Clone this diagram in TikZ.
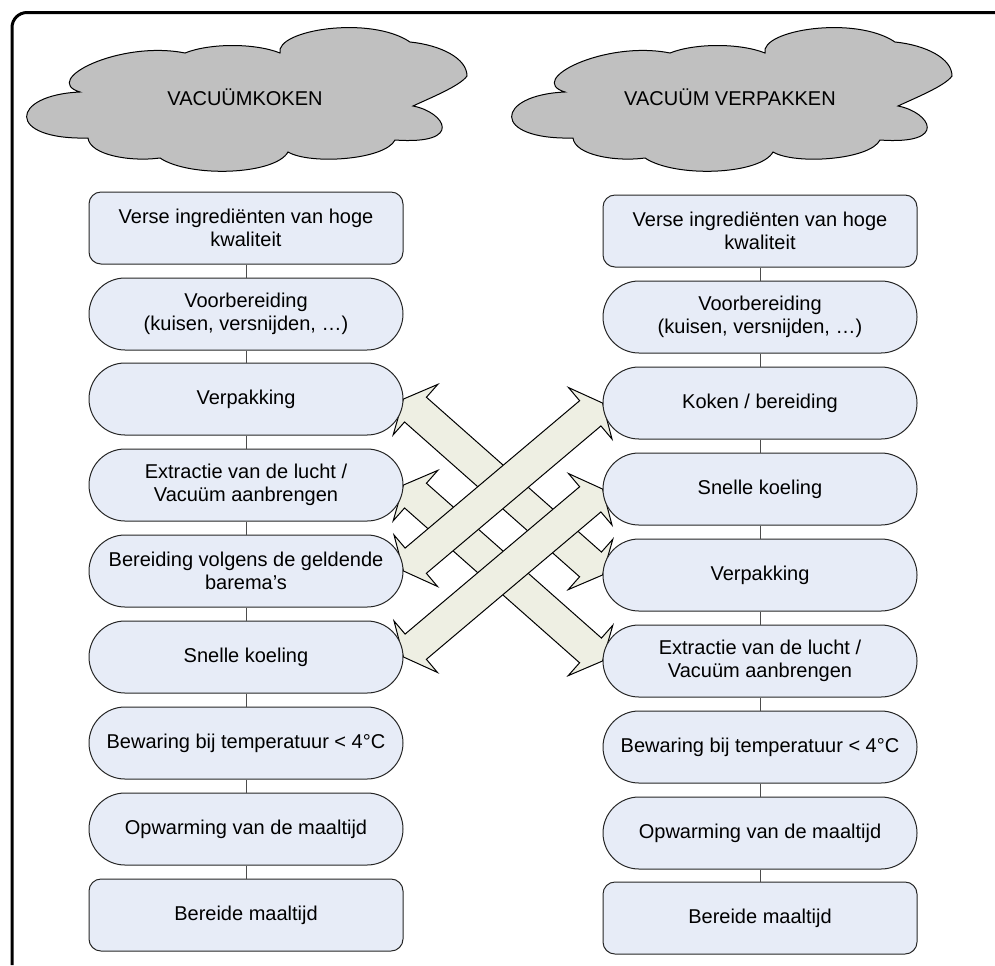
\documentclass[tikz,border=0pt]{standalone}
\usepackage{fontspec}
\setmainfont{Liberation Sans}
\usetikzlibrary{calc}
\definecolor{boxblue}{RGB}{231,236,247}
\definecolor{arrowfill}{RGB}{238,239,227}
\definecolor{cloudgray}{RGB}{192,192,192}
\pgfdeclarelayer{back}
\pgfsetlayers{back,main}

% double block arrow, tip to tip
\newcommand\dualarrow[2]{%
  \coordinate (ha) at ($(#1)!8pt!(#2)$);
  \coordinate (hb) at ($(#2)!8pt!(#1)$);
  \draw[blockarrow] (#1) -- ($(ha)!16.85pt!90:(#2)$) -- ($(ha)!8.25pt!90:(#2)$)
    -- ($(hb)!8.25pt!-90:(#1)$) -- ($(hb)!16.85pt!-90:(#1)$) -- (#2)
    -- ($(hb)!16.85pt!90:(#1)$) -- ($(hb)!8.25pt!90:(#1)$)
    -- ($(ha)!8.25pt!-90:(#2)$) -- ($(ha)!16.85pt!-90:(#2)$) -- cycle;}

% outline of the cloud
\newcommand\cloudoutline{(80,92) .. controls (40,80) and (120,40) .. (185,53)
  .. controls (210,43) and (255,43) .. (280,53)
  .. controls (275,30) and (370,15) .. (410,42)
  .. controls (440,45) and (467,58) .. (467,76)
  .. controls (460,86) and (430,98) .. (413,106)
  .. controls (445,112) and (465,145) .. (395,140)
  .. controls (385,160) and (310,165) .. (288,152)
  .. controls (275,175) and (190,178) .. (160,158)
  .. controls (130,162) and (90,155) .. (88,138)
  .. controls (5,140) and (10,95) .. (80,92) -- cycle}

\begin{document}
\begin{tikzpicture}[x=0.5pt,y=-0.5pt,
  every node/.style={font=\fontsize{10}{11.5}\selectfont},
  stepbox/.style={draw=black!85, fill=boxblue, line width=0.5pt, minimum width=157pt, minimum height=36pt, align=center, inner sep=2pt},
  roundstep/.style={stepbox, rounded corners=18pt},
  endstep/.style={stepbox, rounded corners=6pt},
  link/.style={draw=black!70, line width=0.5pt},
  blockarrow/.style={draw=black, fill=arrowfill, line width=0.5pt},
  cloudstyle/.style={draw=black, fill=cloudgray, line width=0.5pt}]
\useasboundingbox (0,0) rectangle (995,965);
% frame, only its top and left sides fall inside the picture
\draw[line width=1.5pt, rounded corners=7.5pt] (995,12.5) -- (12,12.5) -- (12,965);

% clouds
\draw[cloudstyle] \cloudoutline;
\draw[cloudstyle, shift={(485,0)}] \cloudoutline;
\node (kcloud) at (245,97) {VACUÜMKOKEN};
\node (vcloud) at (730,97) {VACUÜM VERPAKKEN};

% vacuumkoken
\node[endstep] (k1) at (246,228) {Verse ingrediënten van hoge\\kwaliteit};
\node[roundstep] (k2) at (246,314) {Voorbereiding\\(kuisen, versnijden, …)};
\node[roundstep] (k3) at (246,399) {Verpakking};
\node[roundstep] (k4) at (246,485) {Extractie van de lucht /\\Vacuüm aanbrengen};
\node[roundstep] (k5) at (246,571) {Bereiding volgens de geldende\\barema’s};
\node[roundstep] (k6) at (246,657) {Snelle koeling};
\node[roundstep] (k7) at (246,743) {Bewaring bij temperatuur < 4°C};
\node[roundstep] (k8) at (246,829) {Opwarming van de maaltijd};
\node[endstep] (k9) at (246,915) {Bereide maaltijd};

% vacuum verpakken
\node[endstep] (v1) at (760,231) {Verse ingrediënten van hoge\\kwaliteit};
\node[roundstep] (v2) at (760,317) {Voorbereiding\\(kuisen, versnijden, …)};
\node[roundstep] (v3) at (760,403) {Koken / bereiding};
\node[roundstep] (v4) at (760,489) {Snelle koeling};
\node[roundstep] (v5) at (760,575) {Verpakking};
\node[roundstep] (v6) at (760,661) {Extractie van de lucht /\\Vacuüm aanbrengen};
\node[roundstep] (v7) at (760,747) {Bewaring bij temperatuur < 4°C};
\node[roundstep] (v8) at (760,833) {Opwarming van de maaltijd};
\node[endstep] (v9) at (760,918) {Bereide maaltijd};

\path (k1) edge[link] (k2);
\path (k2) edge[link] (k3);
\path (k3) edge[link] (k4);
\path (k4) edge[link] (k5);
\path (k5) edge[link] (k6);
\path (k6) edge[link] (k7);
\path (k7) edge[link] (k8);
\path (k8) edge[link] (k9);
\path (v1) edge[link] (v2);
\path (v2) edge[link] (v3);
\path (v3) edge[link] (v4);
\path (v4) edge[link] (v5);
\path (v5) edge[link] (v6);
\path (v6) edge[link] (v7);
\path (v7) edge[link] (v8);
\path (v8) edge[link] (v9);

\begin{pgfonlayer}{back}
\dualarrow{k3.east}{v5.west}
\dualarrow{k4.east}{v6.west}
\dualarrow{k5.east}{v3.west}
\dualarrow{k6.east}{v4.west}
\end{pgfonlayer}
\end{tikzpicture}
\end{document}
